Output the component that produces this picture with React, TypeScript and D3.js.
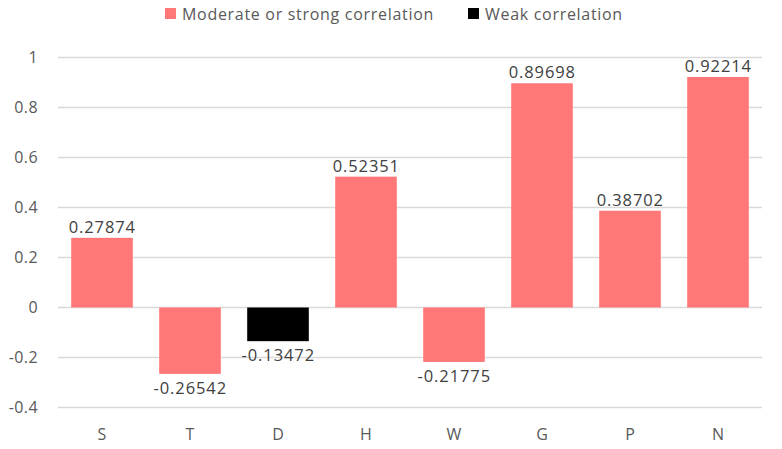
import React from "react";
import * as d3 from "d3";

const categories = ["S", "T", "D", "H", "W", "G", "P", "N"];
const values = [0.27874, -0.26542, -0.13472, 0.52351, -0.21775, 0.89698, 0.38702, 0.92214];
const weak = [false, false, true, false, false, false, false, false];
const yTicks = [-0.4, -0.2, 0, 0.2, 0.4, 0.6, 0.8, 1];
const legendItems = ["Moderate or strong correlation", "Weak correlation"];

const W = 782;
const H = 449;
const PINK = "#FF7777";
const BLACK = "#000000";
const FONT = "'Open Sans', sans-serif";

export default function App() {
  const x = d3.scaleBand<string>().domain(categories).range([58, 762]).paddingInner(0.3).paddingOuter(0.15);
  const y = d3.scaleLinear().domain([-0.4, 1]).range([407.5, 57.5]);
  const fmt = (v: number) => (v === 0 ? "0" : String(Math.round(v * 10) / 10));
  return (
    <svg width={W} height={H} style={{ position: "absolute", left: 0, top: 0, background: "#fff" }} fontFamily={FONT}>
      <rect width={W} height={H} fill="#fff" />
      {yTicks.map((t) => (
        <g key={t}>
          <line x1={58} x2={762} y1={y(t)} y2={y(t)} stroke="#D9D9D9" strokeWidth={1.3} />
          <text x={38} y={y(t)} dy="0.35em" textAnchor="end" fontSize={16} letterSpacing={0.4} fill="#595959">
            {fmt(t)}
          </text>
        </g>
      ))}
      {categories.map((c, i) => {
        const v = values[i];
        const x0 = x(c)!;
        const bw = x.bandwidth();
        const top = v >= 0 ? y(v) : y(0);
        const h = Math.abs(y(v) - y(0));
        return (
          <g key={c}>
            <rect x={x0} y={top} width={bw} height={h} fill={weak[i] ? BLACK : PINK} />
            <text
              x={x0 + bw / 2 + 0.3}
              y={v >= 0 ? y(v) - 5 : y(v) + 4}
              dy={v >= 0 ? "0" : "0.95em"}
              textAnchor="middle"
              fontSize={16.5}
              letterSpacing={0.9}
              fill="#404040"
            >
              {v.toFixed(5)}
            </text>
            <text x={x0 + bw / 2} y={434} dy="0.35em" textAnchor="middle" fontSize={16} fill="#595959">
              {c}
            </text>
          </g>
        );
      })}
      <g>
        <rect x={165} y={8} width={11} height={11} fill={PINK} />
        <text x={182} y={14} dy="0.35em" fontSize={16} letterSpacing={0.7} fill="#595959">
          {legendItems[0]}
        </text>
        <rect x={468} y={8} width={11} height={11} fill={BLACK} />
        <text x={485} y={14} dy="0.35em" fontSize={16} letterSpacing={0.7} fill="#595959">
          {legendItems[1]}
        </text>
      </g>
    </svg>
  );
}
